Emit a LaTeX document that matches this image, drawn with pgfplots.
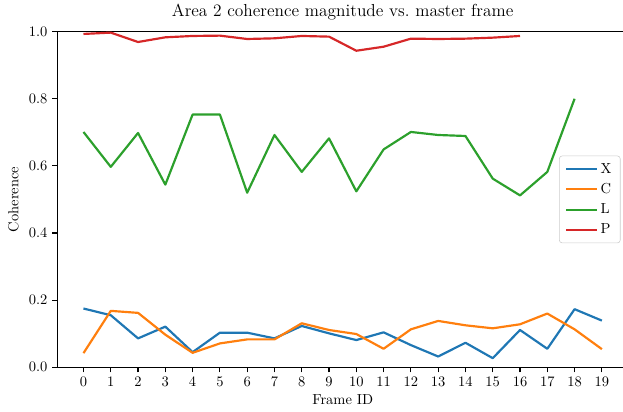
\documentclass[border=0pt]{standalone}
\usepackage{pgfplots}
\pgfplotsset{compat=1.18}
\definecolor{tabblue}{HTML}{1F77B4}
\definecolor{taborange}{HTML}{FF7F0E}
\definecolor{tabgreen}{HTML}{2CA02C}
\definecolor{tabred}{HTML}{D62728}
\pgfplotsset{legend image code/.code={\draw[#1] (0pt,0pt) -- (21pt,0pt);}}
\begin{document}
\begin{tikzpicture}
\useasboundingbox (0,0) rectangle (429.7pt,284.1pt);
\begin{axis}[
  at={(39.7pt,30.8pt)}, anchor=south west,
  scale only axis, width=393.3pt, height=231.5pt,
  xmin=-0.95, xmax=19.95, ymin=0, ymax=1,
  xtick={0,...,19}, ytick={0,0.2,0.4,0.6,0.8,1},
  yticklabel style={/pgf/number format/.cd, fixed, fixed zerofill, precision=1},
  tick align=outside, tick pos=left, major tick length=3.5pt,
  tick style={line width=0.8pt, black},
  axis line style={line width=0.8pt},
  title={Area 2 coherence magnitude vs.\ master frame},
  title style={at={(0.5,1)}, anchor=base, yshift=4.6pt, font=\large},
  xlabel={Frame ID},
  xlabel style={at={(0.5,0)}, anchor=base, yshift=-26pt},
  ylabel={Coherence},
  ylabel style={at={(0,0.5)}, anchor=base, yshift=27.1pt},
  legend cell align=left,
  legend style={at={(1,0.5)}, anchor=east, xshift=-5pt, draw=black!20, rounded corners=2pt,
    fill=white, fill opacity=0.8, text opacity=1, inner xsep=4pt, inner ysep=3pt,
    row sep=1.5pt, nodes={inner sep=2pt}},
  every axis plot/.append style={line width=1.5pt, line join=round},
]
\addplot[tabblue] coordinates {(0,0.175)(1,0.155)(2,0.086)(3,0.121)(4,0.045)(5,0.103)(6,0.103)(7,0.086)(8,0.123)(9,0.101)(10,0.081)(11,0.104)(12,0.066)(13,0.032)(14,0.073)(15,0.027)(16,0.111)(17,0.055)(18,0.173)(19,0.139)};
\addlegendentry{X}
\addplot[taborange] coordinates {(0,0.042)(1,0.168)(2,0.162)(3,0.097)(4,0.043)(5,0.071)(6,0.083)(7,0.083)(8,0.131)(9,0.111)(10,0.099)(11,0.055)(12,0.113)(13,0.138)(14,0.125)(15,0.116)(16,0.128)(17,0.160)(18,0.113)(19,0.054)};
\addlegendentry{C}
\addplot[tabgreen] coordinates {(0,0.701)(1,0.597)(2,0.698)(3,0.544)(4,0.753)(5,0.753)(6,0.520)(7,0.692)(8,0.582)(9,0.682)(10,0.524)(11,0.649)(12,0.701)(13,0.692)(14,0.689)(15,0.562)(16,0.512)(17,0.582)(18,0.800)};
\addlegendentry{L}
\addplot[tabred] coordinates {(0,0.993)(1,0.997)(2,0.969)(3,0.983)(4,0.987)(5,0.988)(6,0.978)(7,0.980)(8,0.987)(9,0.985)(10,0.943)(11,0.955)(12,0.979)(13,0.978)(14,0.979)(15,0.982)(16,0.987)};
\addlegendentry{P}
\end{axis}
\end{tikzpicture}
\end{document}
